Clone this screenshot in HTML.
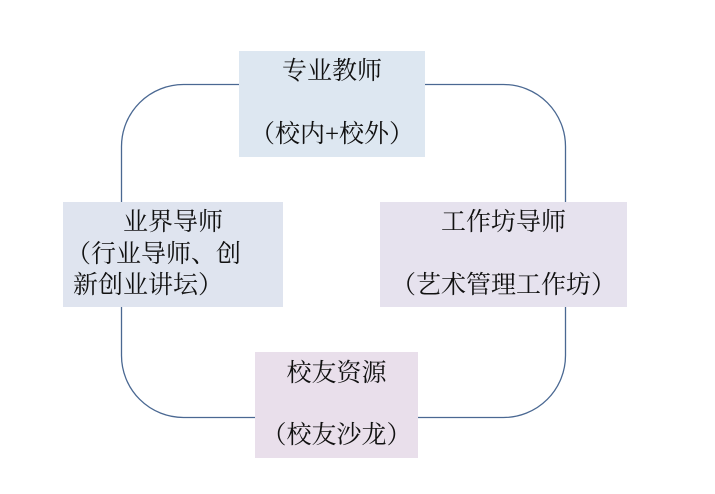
<!DOCTYPE html>
<html><head><meta charset="utf-8"><style>
body{margin:0;width:715px;height:494px;background:#fff;position:relative;overflow:hidden;font-family:"Liberation Serif","Noto Serif CJK SC",serif;}
.b{position:absolute;text-align:center;font-size:25px;color:#111;}
.l{position:absolute;left:0;right:0;text-align:center;line-height:27px;white-space:nowrap;}
</style></head><body>
<svg width="715" height="494" style="position:absolute;left:0;top:0">
<rect x="121.5" y="84.5" width="444" height="333" rx="62" ry="62" fill="none" stroke="#4a6892" stroke-width="1.3"/>
</svg>
<div class="b" style="left:239px;top:51px;width:186px;height:106px;background:#dde7f1">
<div class="l" style="top:7px">专业教师</div><div class="l" style="top:70px">（校内+校外）</div></div>
<div class="b" style="left:63px;top:202px;width:220px;height:105px;background:#dfe4ef">
<div class="l" style="top:7px">业界导师</div>
<div class="l" style="top:39px;text-align:left;padding-left:3px">（行业导师、创</div>
<div class="l" style="top:70px;text-align:left;padding-left:10px">新创业讲坛）</div></div>
<div class="b" style="left:380px;top:202px;width:247px;height:105px;background:#e6e2ee">
<div class="l" style="top:7px">工作坊导师</div><div class="l" style="top:70px">（艺术管理工作坊）</div></div>
<div class="b" style="left:255px;top:352px;width:163px;height:106px;background:#e9dfeb">
<div class="l" style="top:8px">校友资源</div><div class="l" style="top:70px">（校友沙龙）</div></div>
</body></html>
